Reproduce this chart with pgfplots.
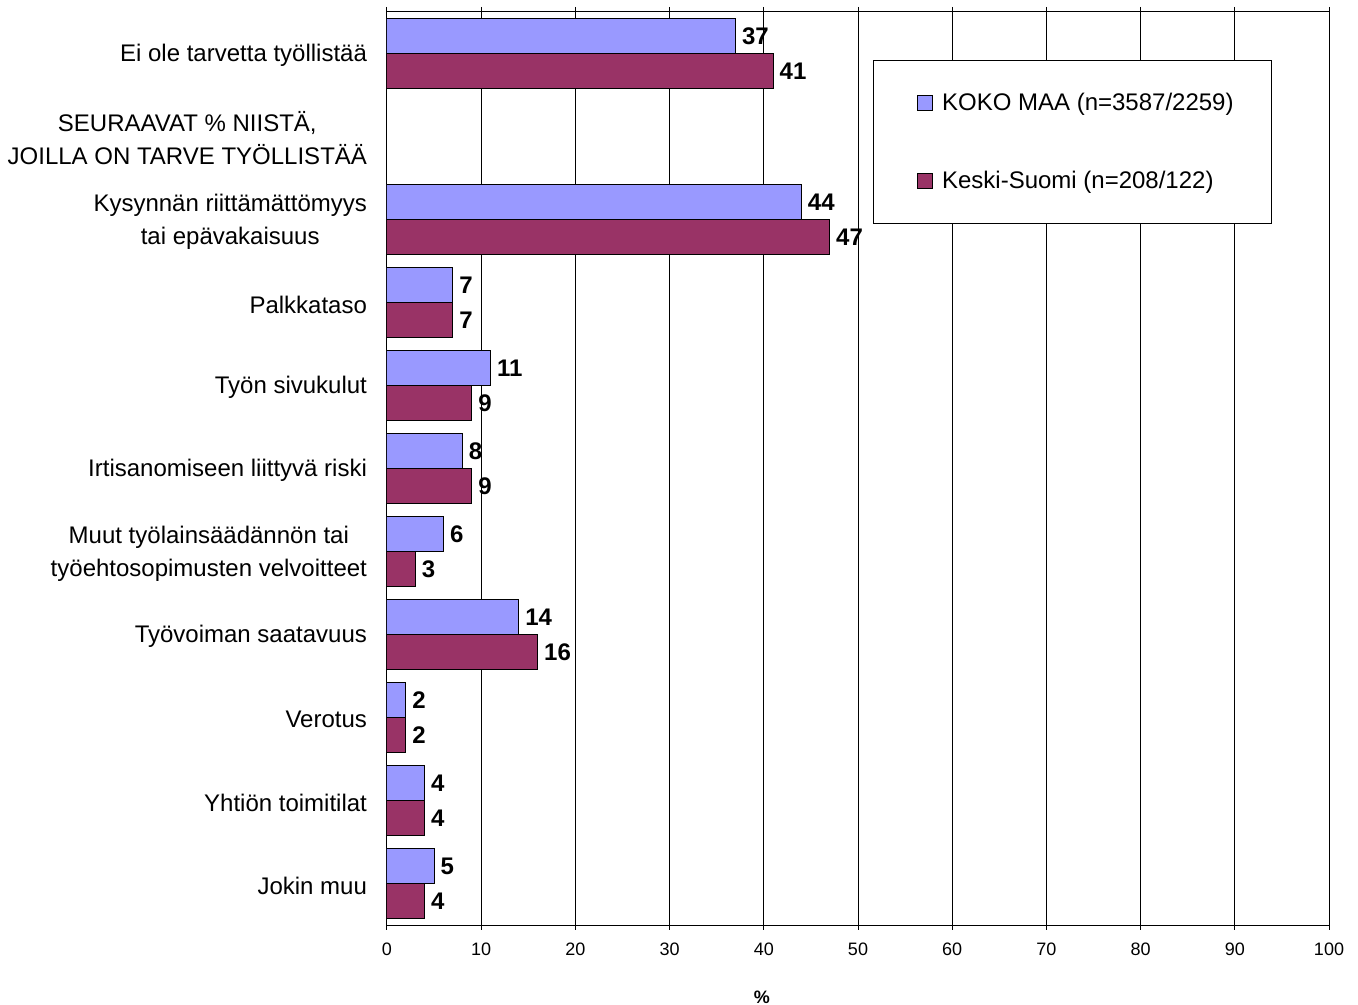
\documentclass[border=0pt]{standalone}
\usepackage{fontspec}
\setmainfont{Liberation Sans}
\usepackage{pgfplots}
\pgfplotsset{compat=1.18}
\definecolor{koko}{HTML}{9999FF}
\definecolor{keski}{HTML}{993366}
\begin{document}
\begin{tikzpicture}
\begin{axis}[
  scale only axis,
  width=471pt, height=456.5pt,
  xbar, bar width=17.5pt,
  xmin=0, xmax=100,
  ymin=-0.5, ymax=10.5,
  xtick={0,10,...,100},
  ytick={0,1,2,3,4,5,6,7,8,9,10},
  yticklabels={{Jokin muu},{Yhtiön toimitilat},{Verotus},{Työvoiman saatavuus},
    {Muut työlainsäädännön tai\\työehtosopimusten velvoitteet},
    {Irtisanomiseen liittyvä riski},{Työn sivukulut},{Palkkataso},
    {Kysynnän riittämättömyys\\tai epävakaisuus},
    {SEURAAVAT \% NIISTÄ,\\JOILLA ON TARVE TYÖLLISTÄÄ},
    {Ei ole tarvetta työllistää}},
  /pgf/number format/assume math mode=true,
  xmajorgrids=true,
  grid style={black, line width=0.5pt},
  axis line style={black, line width=0.5pt},
  tick align=outside,
  x tick style={black, line width=0.5pt},
  major tick length=2.5pt,
  y tick style={draw=none},
  x tick label style={font=\fontsize{9}{11}\selectfont, yshift=-3pt},
  y tick label style={font=\fontsize{12}{16.5}\selectfont, align=center, xshift=-4pt, yshift=-1pt},
  xlabel={\textbf{\%}},
  every axis x label/.style={at={(axis description cs:0.398,0)}, anchor=center, yshift=-36pt, font=\fontsize{9}{11}\selectfont},
  nodes near coords,
  nodes near coords style={font=\bfseries\fontsize{12}{14}\selectfont, anchor=west, inner sep=3pt},
  area legend,
  legend image code/.code={\path[draw=none, fill=none] (0pt,0pt) -- (12.5pt,0pt);
    \draw[#1] (5pt,-3.75pt) rectangle (12.5pt,3.75pt);},
  legend cell align=left,
  legend style={draw=black, line width=0.5pt, fill=white, at={(0.516,0.947)}, anchor=north west,
    inner xsep=17pt, inner ysep=14pt, row sep=25pt,
    /tikz/every odd column/.append style={column sep=2.5pt},
    font=\fontsize{12}{14}\selectfont},
]
\addplot[fill=koko, draw=black, line width=0.5pt, bar shift=8.75pt] coordinates {
  (37,10) (44,8) (7,7) (11,6) (8,5) (6,4) (14,3) (2,2) (4,1) (5,0)
};
\addplot[fill=keski, draw=black, line width=0.5pt, bar shift=-8.75pt] coordinates {
  (41,10) (47,8) (7,7) (9,6) (9,5) (3,4) (16,3) (2,2) (4,1) (4,0)
};
\legend{KOKO MAA (n=3587/2259), Keski-Suomi (n=208/122)}
\coordinate (ll) at (rel axis cs:0,0);
\coordinate (ur) at (rel axis cs:1,1);
\end{axis}
\pgfresetboundingbox
\path ([shift={(-193.5pt,-40pt)}]ll) rectangle ([shift={(14.5pt,6pt)}]ur);
\end{tikzpicture}
\end{document}
